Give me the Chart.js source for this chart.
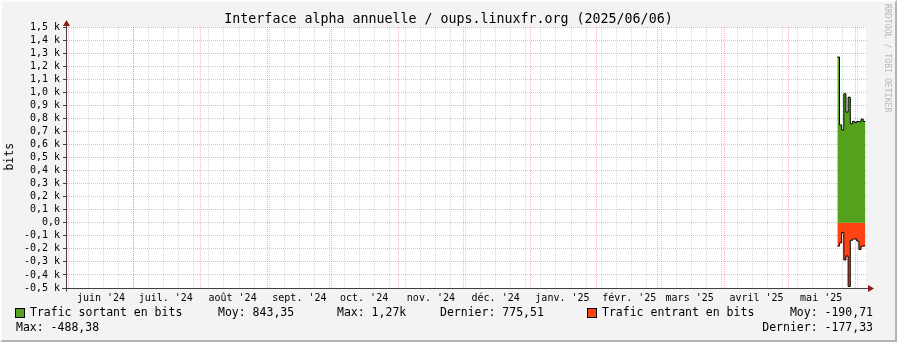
<!DOCTYPE html>
<html>
<head>
<meta charset="utf-8">
<script src="https://cdn.jsdelivr.net/npm/chart.js@4.4.1/dist/chart.umd.min.js"></script>
<style>
  html, body { margin: 0; padding: 0; background: #fff; }
  #graph {
    position: relative; width: 897px; height: 342px; background: #f3f3f3;
    font-family: "DejaVu Sans Mono", monospace; color: #000; overflow: hidden;
  }
  #graph canvas { position: absolute; left: 0; top: 0; }
  #frame {
    position: absolute; left: 0; top: 0; width: 893px; height: 338px; pointer-events: none;
    border-style: solid; border-width: 2px;
    border-color: #fdfdfd #b4b4b4 #b4b4b4 #fdfdfd;
  }
  .txt { position: absolute; white-space: pre; line-height: 1; font-size: 11.5px; }
  .sq { position: absolute; width: 8px; height: 8px; border: 1px solid #000; }
  #title { left: 0; width: 897px; top: 12px; text-align: center; font-size: 13.3px; }
  #ylab { left: -4px; top: 151px; width: 28px; text-align: center; transform: rotate(-90deg); }
  #wm { left: 884px; top: 4px; font-size: 8.2px; color: #b8b8b8; writing-mode: vertical-rl; }
</style>
</head>
<body>
<div id="graph">
  <canvas id="chart" width="897" height="342"></canvas>
  <div class="txt" id="title">Interface alpha annuelle / oups.linuxfr.org (2025/06/06)</div>
  <div class="txt" id="ylab">bits</div>
  <div class="txt" id="wm">RRDTOOL / TOBI OETIKER</div>

  <div class="sq" style="left:15px; top:308px; background:#54a11d"></div>
  <div class="txt" style="left:30px; top:307px">Trafic sortant en bits</div>
  <div class="txt" style="left:218px; top:307px">Moy: 843,35</div>
  <div class="txt" style="left:337px; top:307px">Max: 1,27k</div>
  <div class="txt" style="left:440px; top:307px">Dernier: 775,51</div>
  <div class="sq" style="left:587px; top:308px; background:#ff4312"></div>
  <div class="txt" style="left:602px; top:307px">Trafic entrant en bits</div>
  <div class="txt" style="right:24px; top:307px">Moy: -190,71</div>
  <div class="txt" style="left:16px; top:322px">Max: -488,38</div>
  <div class="txt" style="right:24px; top:322px">Dernier: -177,33</div>
  <div id="frame"></div>
</div>
<script>
// daily samples (bits)
const jours = [
  "2025-05-23 12:00", "2025-05-24 12:00", "2025-05-25 12:00", "2025-05-26 12:00",
  "2025-05-27 12:00", "2025-05-28 12:00", "2025-05-29 12:00", "2025-05-30 12:00",
  "2025-05-31 12:00", "2025-06-01 12:00", "2025-06-02 12:00", "2025-06-03 12:00",
  "2025-06-04 12:00"
];
const sortant = [1270, 750, 712, 988, 848, 962, 758, 777, 768, 776, 774, 794, 775.51];
const entrant = [-179, -155, -75, -285, -255, -488.38, -135, -125, -125, -140, -205, -180, -177.33];

// x axis: month starts + labels
const moisDebut = [
  "2024-06-01", "2024-07-01", "2024-08-01", "2024-09-01", "2024-10-01", "2024-11-01",
  "2024-12-01", "2025-01-01", "2025-02-01", "2025-03-01", "2025-04-01", "2025-05-01",
  "2025-06-01"
];
const moisLabels = [
  "juin '24", "juil. '24", "août '24", "sept. '24", "oct. '24", "nov. '24",
  "déc. '24", "janv. '25", "févr. '25", "mars '25", "avril '25", "mai '25"
];
const debutGraph = "2024-05-31 05:00";
const finGraph = "2025-06-05 19:00";
const premierLundi = "2024-06-03";

const yMin = -500, yMax = 1500, yStep = 100;

const DAY = 86400000;
const origine = Date.UTC(2024, 5, 1);
const toDay = (s) => {
  const [d, t = "00:00"] = s.split(" ");
  const [y, m, dd] = d.split("-").map(Number);
  const [h, mi] = t.split(":").map(Number);
  return (Date.UTC(y, m - 1, dd, h, mi) - origine) / DAY;
};

const xMin = toDay(debutGraph);
const xMax = toDay(finGraph);

// steps: each value holds for one day (chart.js "before" = hold then jump)
const steps = (vals) => {
  const pts = vals.map((v, i) => ({ x: toDay(jours[i]), y: v }));
  pts.push({ x: toDay(jours[jours.length - 1]) + 1, y: vals[vals.length - 1] });
  return pts;
};

// x ticks: weekly grid, monthly grid, mid-month labels
const xTicks = [];
for (let d = toDay(premierLundi); d <= xMax; d += 7) xTicks.push({ value: d, kind: "w" });
moisDebut.forEach((m) => {
  const d = toDay(m);
  if (d >= xMin && d <= xMax) xTicks.push({ value: d, kind: "m" });
});
moisLabels.forEach((l, i) => xTicks.push({ value: toDay(moisDebut[i]) + 15, kind: "l", lbl: l }));
xTicks.sort((a, b) => a.value - b.value);

const RED = "rgba(255,0,0,0.3)";
const GRAY = "rgba(0,0,0,0.15)";
const AXIS = "#404040";
const ARROW = "#8b1a1a";

const axes_plugin = {
  id: "axes_plugin",
  beforeDraw(chart) {
    const { ctx, chartArea: a } = chart;
    ctx.save();
    ctx.fillStyle = "#ffffff";
    ctx.fillRect(a.left, a.top, a.right - a.left, a.bottom - a.top);
    ctx.restore();
  },
  afterDraw(chart) {
    const { ctx, chartArea: a } = chart;
    const ax = a.left - 0.5;
    const ay = a.bottom + 0.5;
    ctx.save();
    ctx.strokeStyle = AXIS;
    ctx.lineWidth = 1;
    ctx.beginPath();
    ctx.moveTo(ax, ay + 3);
    ctx.lineTo(ax, a.top - 4);
    ctx.moveTo(a.left - 5, ay);
    ctx.lineTo(a.right + 4, ay);
    ctx.stroke();
    ctx.fillStyle = ARROW;
    ctx.beginPath();
    ctx.moveTo(ax, a.top - 7);
    ctx.lineTo(ax - 3.5, a.top - 1);
    ctx.lineTo(ax + 3.5, a.top - 1);
    ctx.closePath();
    ctx.fill();
    ctx.beginPath();
    ctx.moveTo(a.right + 8, ay);
    ctx.lineTo(a.right + 2, ay - 3.5);
    ctx.lineTo(a.right + 2, ay + 3.5);
    ctx.closePath();
    ctx.fill();
    ctx.restore();
  },
};

Chart.defaults.font.family = "'DejaVu Sans Mono', monospace";
Chart.defaults.font.size = 10;
Chart.defaults.color = "#000";

new Chart(document.getElementById("chart"), {
  type: "line",
  data: {
    datasets: [
      {
        label: "Trafic sortant en bits",
        data: steps(sortant),
        stepped: "before",
        fill: "origin",
        backgroundColor: "#54a11d",
        borderColor: "#000",
        borderWidth: 1,
        pointRadius: 0,
      },
      {
        label: "Trafic entrant en bits",
        data: steps(entrant),
        stepped: "before",
        fill: "origin",
        backgroundColor: "#ff4312",
        borderColor: "#000",
        borderWidth: 1,
        pointRadius: 0,
      },
    ],
  },
  options: {
    responsive: false,
    animation: false,
    events: [],
    layout: { padding: { left: 0, right: 31, top: 27, bottom: 0 } },
    plugins: { legend: { display: false }, tooltip: { enabled: false } },
    scales: {
      x: {
        type: "linear",
        min: xMin,
        max: xMax,
        afterBuildTicks: (scale) => { scale.ticks = xTicks.map((t) => ({ ...t })); },
        afterFit: (scale) => { scale.height = 54; },
        ticks: {
          autoSkip: false,
          maxRotation: 0,
          padding: 4,
          callback: (v, i, ticks) => ticks[i].lbl || "",
        },
        grid: {
          drawTicks: false,
          color: (c) => (c.tick && c.tick.kind === "m" ? RED : c.tick && c.tick.kind === "w" ? GRAY : "rgba(0,0,0,0)"),
          lineWidth: 1,
        },
        border: { display: false, dash: [1, 1] },
      },
      y: {
        min: yMin,
        max: yMax,
        afterFit: (scale) => { scale.width = 67; },
        ticks: {
          stepSize: yStep,
          autoSkip: false,
          padding: 3,
          callback: (v) => (v === 0 ? "0,0" : (v / 1000).toFixed(1).replace(".", ",") + " k"),
        },
        grid: {
          color: RED,
          tickColor: AXIS,
          tickLength: 4,
          lineWidth: 1,
        },
        border: { display: false, dash: [1, 1] },
      },
    },
  },
  plugins: [axes_plugin],
});
</script>
</body>
</html>
